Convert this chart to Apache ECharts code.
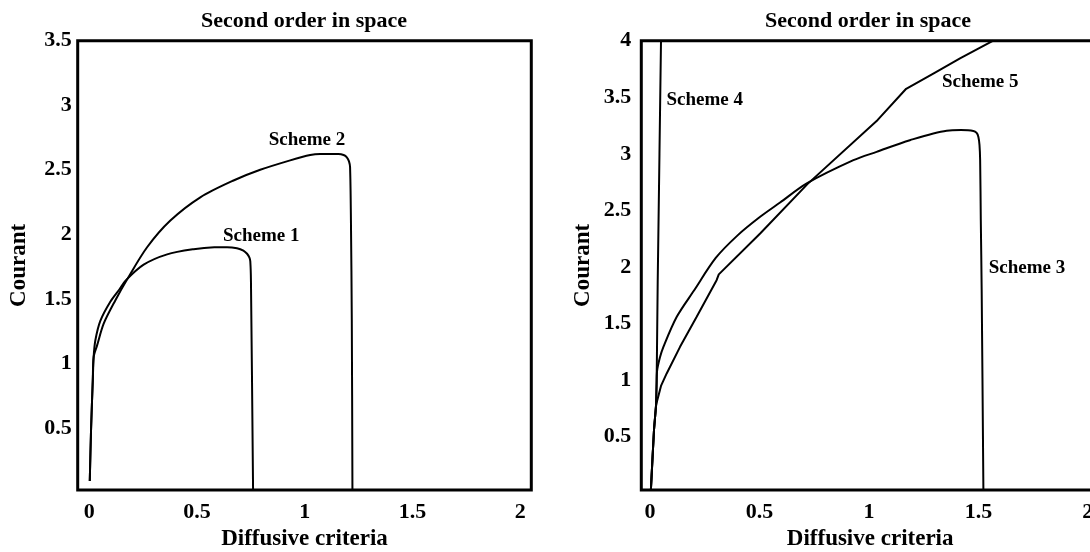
<!DOCTYPE html>
<html>
<head>
<meta charset="utf-8">
<script src="https://cdn.jsdelivr.net/npm/echarts@6/dist/echarts.min.js"></script>
<style>
  html, body { margin: 0; padding: 0; background: #fff; }
  #chart { width: 1090px; height: 552px; }
</style>
</head>
<body>
<div id="chart"></div>
<script>
// ---- data ----
const xTicks = [0, 0.5, 1, 1.5, 2];
const yTicksLeft = [0.5, 1, 1.5, 2, 2.5, 3, 3.5];
const yTicksRight = [0.5, 1, 1.5, 2, 2.5, 3, 3.5, 4];

const titleText = 'Second order in space';
const xName = 'Diffusive criteria';
const yName = 'Courant';

// left panel
const scheme1 = [[0.002,0.09],[0.008,0.49],[0.016,0.87],[0.02,1.05],[0.028,1.18],[0.051,1.33],[0.098,1.48],
  [0.14,1.575],[0.167,1.64],[0.252,1.765],[0.361,1.845],[0.484,1.885],[0.58,1.9],[0.639,1.901],[0.685,1.893],
  [0.715,1.875],[0.732,1.85],[0.743,1.82],[0.747,1.79],[0.75,1.64],[0.76,0]];
const scheme2 = [[0.002,0.09],[0.008,0.49],[0.016,0.87],[0.02,1.05],[0.036,1.14],[0.067,1.31],[0.121,1.49],
  [0.175,1.65],[0.268,1.9],[0.376,2.107],[0.515,2.287],[0.669,2.417],[0.793,2.5],[0.932,2.573],
  [1.025,2.615],[1.071,2.623],[1.156,2.623],[1.18,2.615],[1.195,2.597],[1.205,2.565],[1.21,2.519],
  [1.214,2.107],[1.218,1.335],[1.221,0]];

// right panel
const scheme3 = [[0.004,0.04],[0.018,0.56],[0.027,0.77],[0.03,0.95],[0.032,1.08],[0.045,1.2],[0.061,1.295],
  [0.122,1.56],[0.2,1.79],[0.3,2.08],[0.4,2.28],[0.503,2.444],[0.594,2.57],[0.716,2.739],[0.929,2.944],
  [1.035,3.018],[1.187,3.121],[1.355,3.205],[1.42,3.21],[1.477,3.203],[1.492,3.185],[1.5,3.15],[1.505,3.08],
  [1.508,2.944],[1.511,2.414],[1.515,1.8],[1.523,0]];
const scheme4 = [[0.004,0.04],[0.018,0.56],[0.027,0.77],[0.03,1.0],[0.031,1.15],[0.035,1.88],[0.043,3.0],[0.05,4.0]];
const scheme5 = [[0.004,0.04],[0.018,0.56],[0.027,0.77],[0.033,0.824],[0.05,0.95],[0.076,1.06],[0.137,1.295],
  [0.213,1.56],[0.304,1.884],[0.314,1.935],[0.503,2.297],[0.72,2.735],[1.04,3.3],[1.17,3.575],[1.294,3.71],
  [1.416,3.843],[1.568,4.0]];

// curve labels (data coordinates)
const labelsLeft = [{ name: 'Scheme 1', value: [0.798, 1.984] }, { name: 'Scheme 2', value: [1.01, 2.732] }];
const labelsRight = [{ name: 'Scheme 4', value: [0.25, 3.474] }, { name: 'Scheme 5', value: [1.508, 3.636] },
  { name: 'Scheme 3', value: [1.722, 1.99] }];

// ---- chart ----
const FONT = '"Liberation Serif", "DejaVu Serif", serif';
const chart = echarts.init(document.getElementById('chart'), null, { renderer: 'canvas' });

function xAxis(idx, min, max) {
  return {
    gridIndex: idx, type: 'value', min: min, max: max,
    axisLine: { show: false }, axisTick: { show: false }, splitLine: { show: false },
    axisLabel: { customValues: xTicks, margin: 11, color: '#000', fontFamily: FONT, fontWeight: 'bold', fontSize: 22 },
    name: xName, nameLocation: 'middle', nameGap: 38,
    nameTextStyle: { color: '#000', fontFamily: FONT, fontWeight: 'bold', fontSize: 23 }
  };
}
function yAxis(idx, min, max, ticks, margin) {
  return {
    gridIndex: idx, type: 'value', min: min, max: max,
    axisLine: { show: false }, axisTick: { show: false }, splitLine: { show: false },
    axisLabel: { customValues: ticks, margin: margin, color: '#000', fontFamily: FONT, fontWeight: 'bold', fontSize: 22 },
    name: yName, nameLocation: 'middle', nameGap: 47,
    nameTextStyle: { color: '#000', fontFamily: FONT, fontWeight: 'bold', fontSize: 23 }
  };
}
function line(data, idx, smooth) {
  return {
    type: 'line', data: data, xAxisIndex: idx, yAxisIndex: idx, showSymbol: false, symbol: 'none',
    smooth: smooth, lineStyle: { color: '#000', width: 2 }, silent: true, clip: true
  };
}
function labels(data, idx) {
  return {
    type: 'scatter', data: data, xAxisIndex: idx, yAxisIndex: idx, symbolSize: 0, silent: true,
    itemStyle: { opacity: 1, color: '#000' },
    label: { show: true, position: 'inside', formatter: '{b}', color: '#000', opacity: 1,
      fontFamily: FONT, fontWeight: 'bold', fontSize: 19, textBorderWidth: 0 }
  };
}

const gridCommon = { show: true, borderColor: '#000', borderWidth: 3, backgroundColor: 'transparent',
  outerBoundsMode: 'none', containLabel: false };

chart.setOption({
  animation: false,
  backgroundColor: '#fff',
  grid: [
    Object.assign({ left: 77.7, top: 40.7, width: 453.6, height: 449.3 }, gridCommon),
    Object.assign({ left: 641.3, top: 40.7, width: 457.7, height: 449.3 }, gridCommon)
  ],
  xAxis: [xAxis(0, -0.054, 2.051), xAxis(1, -0.04, 2.051)],
  yAxis: [yAxis(0, 0.02, 3.5, yTicksLeft, 6), yAxis(1, 0.03, 4, yTicksRight, 10)],
  graphic: [
    { type: 'text', x: 304, y: 21, style: { text: titleText, font: 'bold 22px ' + FONT, fill: '#000', align: 'center', verticalAlign: 'middle', textAlign: 'center', textVerticalAlign: 'middle' } },
    { type: 'text', x: 868, y: 21, style: { text: titleText, font: 'bold 22px ' + FONT, fill: '#000', align: 'center', verticalAlign: 'middle', textAlign: 'center', textVerticalAlign: 'middle' } }
  ],
  series: [
    line(scheme1, 0, 0.3), line(scheme2, 0, 0.3),
    line(scheme3, 1, 0.3), line(scheme4, 1, false), line(scheme5, 1, false),
    labels(labelsLeft, 0), labels(labelsRight, 1)
  ]
});
</script>
</body>
</html>
